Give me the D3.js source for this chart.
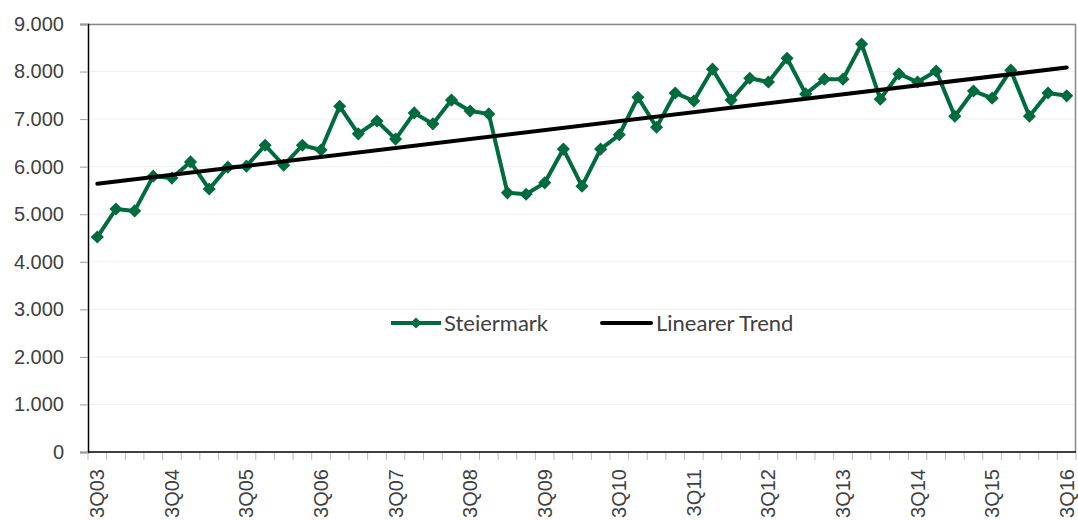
<!DOCTYPE html>
<html>
<head>
<meta charset="utf-8">
<script src="https://cdn.jsdelivr.net/npm/d3@7"></script>
<style>
  body { margin: 0; background: #fff; }
  .axis text { font-family: "Liberation Sans", Arial, sans-serif; fill: #404040; }
  .legend text { font-family: Lato, "Open Sans", sans-serif; fill: #404040; font-size: 22px; }
</style>
</head>
<body>
<script>
// Quartale 3Q03 .. 3Q16
var years = d3.range(3, 17);
var quarters = [];
years.forEach(function (yy) {
    [3, 4, 1, 2].forEach(function (q, i) {
        var yr = i < 2 ? yy : yy + 1;
        quarters.push(q + "Q" + String(yr).padStart(2, "0"));
    });
});
quarters = quarters.slice(0, 53);

// Werte Steiermark
var steiermark = [
    4520, 5110, 5070, 5800, 5760, 6100, 5530, 5990, 6010, 6450,
    6030, 6450, 6350, 7270, 6690, 6960, 6580, 7130, 6900, 7400,
    7170, 7110, 5450, 5420, 5660, 6370, 5590, 6370, 6670, 7460,
    6830, 7550, 7380, 8050, 7400, 7860, 7780, 8280, 7530, 7840,
    7840, 8580, 7420, 7950, 7780, 8010, 7060, 7590, 7440, 8030,
    7060, 7550, 7490
];

var yTicks = [0, 1000, 2000, 3000, 4000, 5000, 6000, 7000, 8000, 9000];

var margin = {top: 24, right: 2, bottom: 68, left: 88},
    fullWidth = 1078, fullHeight = 520,
    width = fullWidth - margin.left - margin.right,
    height = fullHeight - margin.top - margin.bottom;

var svg = d3.select("body").append("svg")
    .attr("width", fullWidth)
    .attr("height", fullHeight)
    .append("g")
    .attr("transform", "translate(" + margin.left + "," + margin.top + ")");

var x = d3.scaleBand().domain(quarters).range([0, width]);
var y = d3.scaleLinear().domain([0, 9000]).range([height, 0]);
var cx = function (d, i) { return x(quarters[i]) + x.bandwidth() / 2; };

// Hilfslinien
svg.append("g").selectAll("line").data(yTicks.slice(1)).enter().append("line")
    .attr("x1", 0).attr("x2", width)
    .attr("y1", function (d) { return y(d); }).attr("y2", function (d) { return y(d); })
    .attr("stroke", "#f0f0f0").attr("stroke-width", 1);

// Rahmen oben/rechts
svg.append("path")
    .attr("d", "M0,0.5H" + (width - 0.5) + "V" + height)
    .attr("fill", "none").attr("stroke", "#888").attr("stroke-width", 1.5);

// Y-Achse
var fmt = function (d) { return d3.format(",")(d).replace(/,/g, "."); };
var yAxis = svg.append("g").attr("class", "axis")
    .call(d3.axisLeft(y).tickValues(yTicks).tickFormat(fmt).tickSize(8).tickPadding(16));
yAxis.selectAll("text").style("font-size", "20px");
yAxis.selectAll(".tick line").attr("stroke", "#999");
yAxis.select(".domain").attr("stroke", "#000").attr("stroke-width", 1.5);

// X-Achse: Striche an den Kategoriegrenzen
var xg = svg.append("g").attr("class", "axis").attr("transform", "translate(0," + height + ")");
xg.selectAll("line.tk").data(quarters.concat([null])).enter().append("line")
    .attr("class", "tk")
    .attr("x1", function (d, i) { return i * x.step(); })
    .attr("x2", function (d, i) { return i * x.step(); })
    .attr("y1", 0).attr("y2", 8)
    .attr("stroke", "#bbb");
xg.append("line").attr("x1", 0).attr("x2", width).attr("stroke", "#000").attr("stroke-width", 1.5);
xg.selectAll("text").data(quarters.filter(function (d, i) { return i % 4 === 0; })).enter().append("text")
    .attr("transform", function (d) {
        return "translate(" + (x(d) + x.bandwidth() / 2) + ",17) rotate(-90)";
    })
    .attr("text-anchor", "end")
    .attr("dy", "0.35em")
    .style("font-size", "20px")
    .text(function (d) { return d; });

// Linearer Trend (Regression)
var n = steiermark.length,
    mx = (n - 1) / 2,
    my = d3.mean(steiermark),
    sxy = d3.sum(steiermark, function (v, i) { return (i - mx) * (v - my); }),
    sxx = d3.sum(steiermark, function (v, i) { return (i - mx) * (i - mx); }),
    slope = sxy / sxx,
    icpt = my - slope * mx;
var trend = [icpt, icpt + slope * (n - 1)];

var green = "#006b3f";

var line = d3.line().x(cx).y(function (d) { return y(d); });
svg.append("path").datum(steiermark)
    .attr("d", line)
    .attr("fill", "none").attr("stroke", green).attr("stroke-width", 4)
    .attr("stroke-linejoin", "round");

svg.selectAll("path.pt").data(steiermark).enter().append("path")
    .attr("class", "pt")
    .attr("d", d3.symbol().type(d3.symbolDiamond2).size(110))
    .attr("transform", function (d, i) { return "translate(" + cx(d, i) + "," + y(d) + ")"; })
    .attr("fill", green);

svg.append("line")
    .attr("x1", cx(null, 0)).attr("x2", cx(null, n - 1))
    .attr("y1", y(trend[0])).attr("y2", y(trend[1]))
    .attr("stroke", "#000").attr("stroke-width", 4).attr("stroke-linecap", "round");

// Legende
var leg = svg.append("g").attr("class", "legend").attr("transform", "translate(0," + (323 - margin.top) + ")");
var l1 = leg.append("g").attr("transform", "translate(" + (391 - margin.left) + ",0)");
l1.append("line").attr("x1", 0).attr("x2", 50).attr("stroke", green).attr("stroke-width", 4);
l1.append("path").attr("d", d3.symbol().type(d3.symbolDiamond2).size(80)).attr("transform", "translate(25,0)").attr("fill", green);
l1.append("text").attr("x", 53).attr("dy", "0.35em").text("Steiermark");
var l2 = leg.append("g").attr("transform", "translate(" + (602 - margin.left) + ",0)");
l2.append("line").attr("x1", 0).attr("x2", 49).attr("stroke", "#000").attr("stroke-width", 4).attr("stroke-linecap", "round");
l2.append("text").attr("x", 54).attr("dy", "0.35em").text("Linearer Trend");
</script>
</body>
</html>
